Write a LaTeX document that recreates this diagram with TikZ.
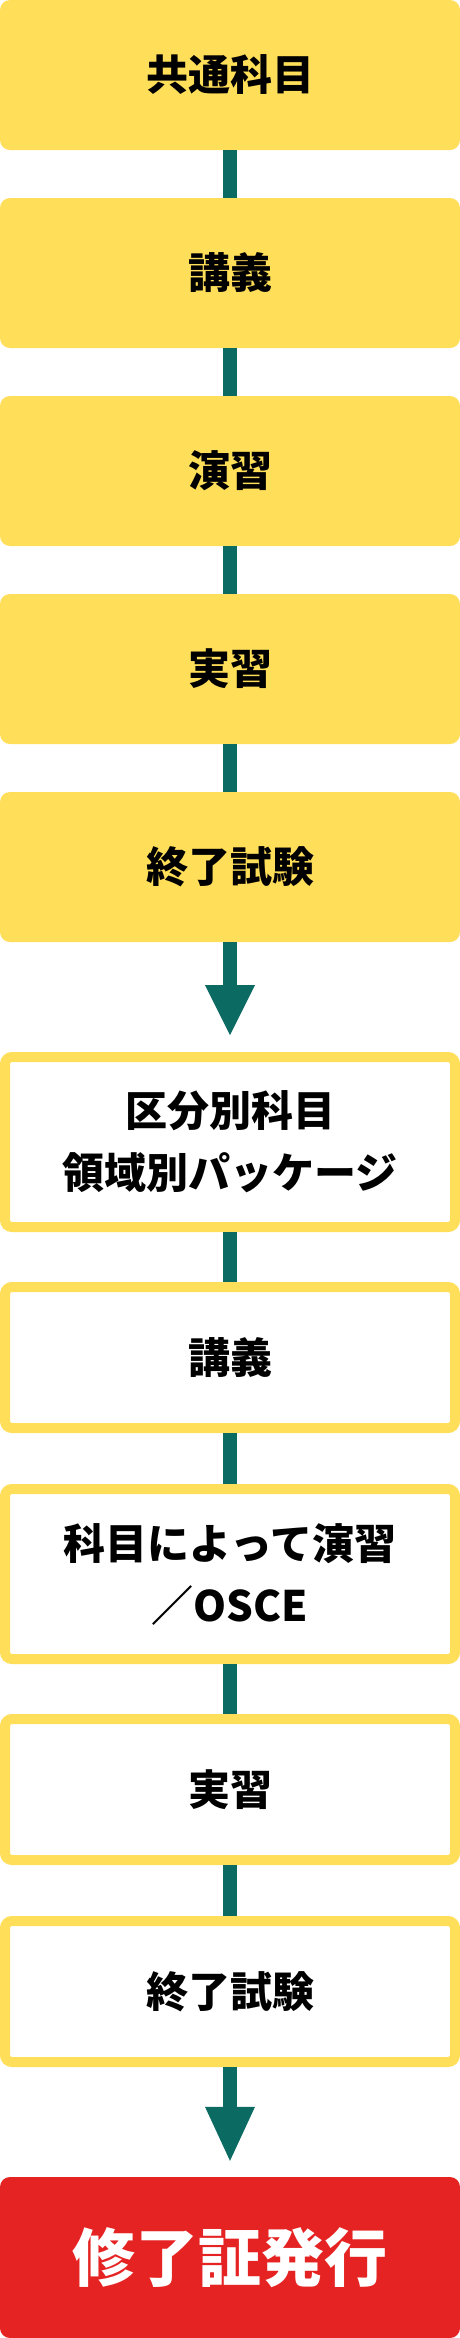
\documentclass[tikz,border=0pt]{standalone}
\usepackage{fontspec}
\newfontfamily\jpfont{Noto Sans CJK JP}
\definecolor{flowyellow}{HTML}{FFDE59}
\definecolor{flowteal}{HTML}{0B6A62}
\definecolor{flowred}{HTML}{E62323}

\begin{document}
\begin{tikzpicture}[x=1pt, y=1pt,
  boxtext/.style={inner sep=0pt, align=center, font=\jpfont\bfseries\fontsize{42pt}{62pt}\selectfont},
  fillbox/.style={boxtext, fill=flowyellow, rounded corners=10pt, minimum width=460pt, minimum height=150pt},
  linebox/.style={boxtext, draw=flowyellow, line width=10pt, fill=white, rounded corners=7pt, minimum width=450pt},
  endbox/.style={boxtext, fill=flowred, text=white, rounded corners=10pt, minimum width=460pt, minimum height=161pt, font=\jpfont\bfseries\fontsize{63pt}{70pt}\selectfont},
  link/.style={draw=flowteal, line width=14pt},
  head/.style={fill=flowteal}]
\useasboundingbox (0,0) rectangle (460,-2338);

%common part
\node[fillbox] (common) at (230,-75) {共通科目};
\node[fillbox] (lecture) at (230,-273) {講義};
\node[fillbox] (exercise) at (230,-471) {演習};
\node[fillbox] (practice) at (230,-669) {実習};
\node[fillbox] (exam) at (230,-867) {終了試験};

\draw[link] (common.south) -- (lecture.north);
\draw[link] (lecture.south) -- (exercise.north);
\draw[link] (exercise.south) -- (practice.north);
\draw[link] (practice.south) -- (exam.north);

%packages
\node[linebox, minimum height=170pt] (package) at (230,-1142) {区分別科目\\領域別パッケージ};
\node[linebox, minimum height=141pt] (plecture) at (230,-1357.5) {講義};
\node[linebox, minimum height=170pt] (pexercise) at (230,-1574) {科目によって演習\\／OSCE};
\node[linebox, minimum height=141pt] (ppractice) at (230,-1789.5) {実習};
\node[linebox, minimum height=141pt] (pexam) at (230,-1991.5) {終了試験};

\coordinate (tipa) at ([yshift=17pt]package.north);
\draw[link] (exam.south) -- ([yshift=50pt]tipa);
\fill[head] ([xshift=-25pt,yshift=50pt]tipa) -- ([xshift=25pt,yshift=50pt]tipa) -- (tipa) -- cycle;

\draw[link] (package.south) -- (plecture.north);
\draw[link] (plecture.south) -- (pexercise.north);
\draw[link] (pexercise.south) -- (ppractice.north);
\draw[link] (ppractice.south) -- (pexam.north);

%certificate
\node[endbox] (cert) at (230,-2257.5) {修了証発行};

\coordinate (tipb) at ([yshift=16pt]cert.north);
\draw[link] (pexam.south) -- ([yshift=54pt]tipb);
\fill[head] ([xshift=-25pt,yshift=54pt]tipb) -- ([xshift=25pt,yshift=54pt]tipb) -- (tipb) -- cycle;

\end{tikzpicture}
\end{document}
